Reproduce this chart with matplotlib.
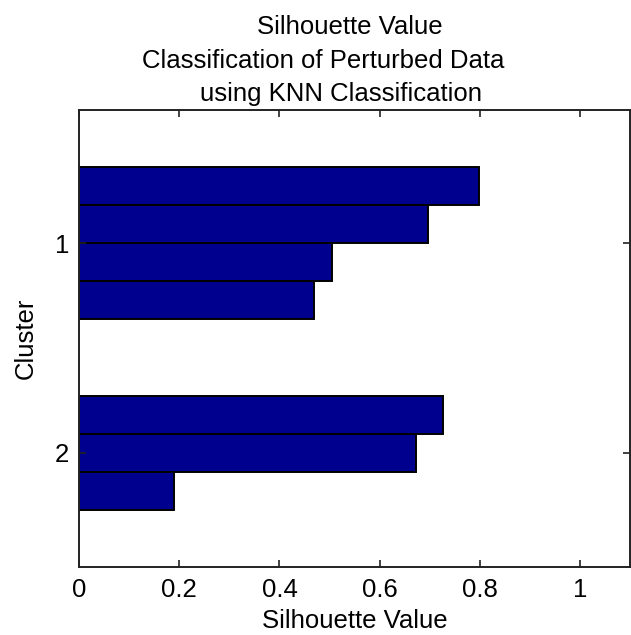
import matplotlib
matplotlib.use("Agg")
import matplotlib.pyplot as plt
import numpy as np

# ---- data ----
cluster_names = ["1", "2"]
cluster1_values = [0.798, 0.697, 0.504, 0.469]
cluster2_values = [0.726, 0.673, 0.189]
x_ticks = [0, 0.2, 0.4, 0.6, 0.8, 1]
x_tick_labels = ["0", "0.2", "0.4", "0.6", "0.8", "1"]

plt.rcParams['font.family'] = ['Liberation Sans', 'DejaVu Sans']
FS = 18.5

fig = plt.figure(figsize=(6.31, 6.35), dpi=100)
ax = fig.add_axes([79/631, 1 - 567/635, (630.3 - 79)/631, (567 - 110)/635])

# MATLAB-style silhouette layout: gap of 2 slots around / between clusters
space = 2
groups = [cluster1_values, cluster2_values]
positions, values, centers = [], [], []
cursor = space
for g in groups:
    pos = np.arange(len(g)) + cursor
    positions.extend(pos)
    values.extend(g)
    centers.append(pos.mean())
    cursor += len(g) + space
total = positions[-1] + space

ax.barh(positions, values, height=1.0, color='#00008F',
        edgecolor='black', linewidth=1.4)

ax.set_xlim(0, 1.1)
ax.set_ylim(total, 0)
ax.set_xticks(x_ticks)
ax.set_xticklabels(x_tick_labels)
ax.set_yticks(centers)
ax.set_yticklabels(cluster_names)

ax.tick_params(direction='in', length=5, width=1.2, colors='#222222',
               labelcolor='black', labelsize=FS, top=True, right=True)
ax.tick_params(axis='x', pad=8)
ax.tick_params(axis='y', pad=7)
for s in ax.spines.values():
    s.set_linewidth(1.4)
    s.set_color('#222222')

ax.set_xlabel("Silhouette Value", fontsize=FS, labelpad=5)
ax.set_ylabel("Cluster", fontsize=FS, labelpad=12)

# texts above the axes (label of the upper panel and the title)
fig.text(350/631, 1 - 27/635, "Silhouette Value", ha='center', va='center', fontsize=FS)
fig.text(323/631, 1 - 61/635, "Classification of Perturbed Data", ha='center', va='center', fontsize=FS)
fig.text(341/631, 1 - 94/635, "using KNN Classification", ha='center', va='center', fontsize=FS)

fig.savefig("out.png", dpi=100, facecolor='white')
